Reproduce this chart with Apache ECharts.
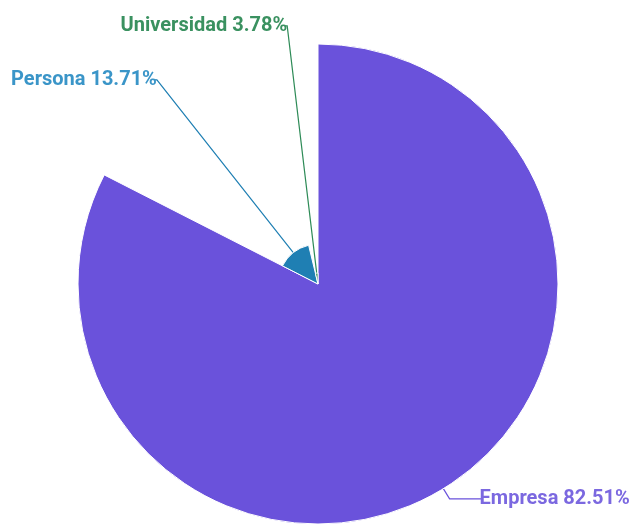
<!DOCTYPE html>
<html>
<head>
<meta charset="utf-8">
<script src="https://cdn.jsdelivr.net/npm/echarts@6/dist/echarts.min.js"></script>
<style>html,body{margin:0;padding:0;background:#fff}#c{width:640px;height:524px}</style>
</head>
<body>
<div id="c"></div>
<script>
const categories = ['Empresa', 'Persona', 'Universidad'];
const values = [82.51, 13.71, 3.78];

const sliceColors = ['#6a52db', '#1f7fb3', '#2e8b57'];
const labelColors = ['#7b68e0', '#3a95c8', '#3a9160'];
const lineLens = [[12, 32], [20, 2], [20, 2]];

const chart = echarts.init(document.getElementById('c'));
chart.setOption({
  animation: false,
  series: [{
    type: 'pie',
    roseType: 'radius',
    center: [318, 284],
    radius: [0, 240],
    startAngle: 90,
    clockwise: true,
    avoidLabelOverlap: false,
    itemStyle: { borderColor: '#fff', borderWidth: 1 },
    label: {
      show: true,
      formatter: function (p) { return p.name + ' ' + p.value.toFixed(2) + '%'; },
      fontFamily: 'Roboto',
      fontSize: 20,
      fontWeight: 'bold',
      distanceToLabelLine: -2
    },
    data: categories.map(function (n, i) {
      return {
        name: n,
        value: values[i],
        itemStyle: { color: sliceColors[i] },
        label: { color: labelColors[i] },
        labelLine: { length: lineLens[i][0], length2: lineLens[i][1], lineStyle: { color: sliceColors[i], width: 1.2 } }
      };
    })
  }]
});
</script>
</body>
</html>
